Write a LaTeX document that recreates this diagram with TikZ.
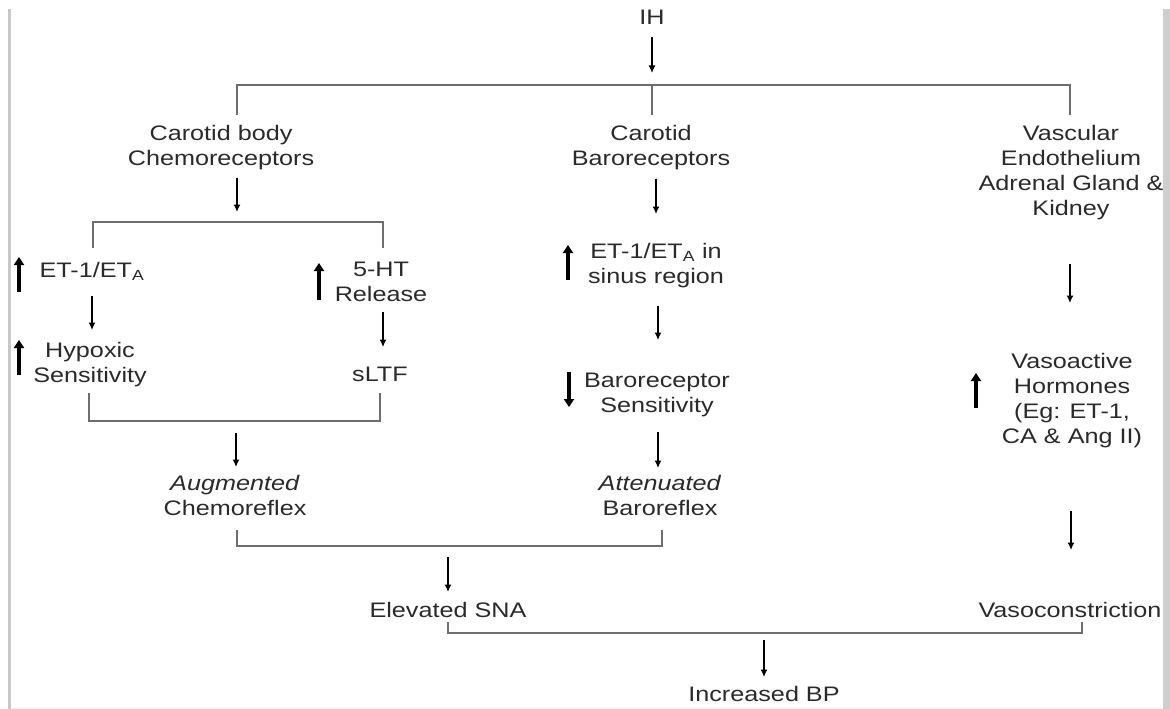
\documentclass[tikz,border=0pt]{standalone}
\usepackage{fontspec}
\setmainfont{Liberation Sans}[FakeStretch=1.2]
\usetikzlibrary{arrows.meta}
\definecolor{txtc}{HTML}{2A2A2A}
\definecolor{brkc}{HTML}{6E6E6E}
\definecolor{framec}{HTML}{C8C8C8}
\begin{document}
\begin{tikzpicture}[x=1pt,y=-1pt,
  lbl/.style={inner sep=0pt, anchor=north, align=center, text=txtc,
    font=\fontsize{21}{25}\selectfont},
  arr/.style={line width=1.4pt, black, -{Latex[length=7.5pt,width=7pt]}},
  brk/.style={line width=1.4pt, brkc},
  bigarr/.style={line width=3.6pt, black, -{Triangle[length=8pt,width=10pt]}}]
\useasboundingbox (0,0) rectangle (1170,709);
\fill[white] (0,0) rectangle (1170,709);
% frame of the screenshot
\fill[framec] (8,9) rectangle (11,709);
\fill[framec!90!white] (1163,9) rectangle (1170,709);
\draw[black!8, line width=1pt] (11,708) -- (1163,708);

% nodes
\node[lbl] (IH)    at (652,10)  {IH};
\node[lbl] (chemo) at (221,125) {Carotid body\\Chemoreceptors};
\node[lbl] (baro)  at (651,125) {Carotid\\Baroreceptors};
\node[lbl] (vasc)  at (1071,125) {Vascular\\Endothelium\\Adrenal Gland \&\\Kidney};
\node[lbl] (et1)   at (92,262)  {ET-1/ET\textsubscript{A}};
\node[lbl] (hyp)   at (90,342)  {Hypoxic\\Sensitivity};
\node[lbl] (ht)    at (381,262) {5-HT\\Release};
\node[lbl] (sltf)  at (380,367) {sLTF};
\node[lbl] (aug)   at (235,475) {\textit{Augmented}\\Chemoreflex};
\node[lbl] (et1s)  at (656,243) {ET-1/ET\textsubscript{A} in\\sinus region};
\node[lbl] (brs)   at (657,373) {Baroreceptor\\Sensitivity};
\node[lbl] (att)   at (660,475) {\textit{Attenuated}\\Baroreflex};
\node[lbl] (vaso)  at (1072,353) {Vasoactive\\Hormones\\(Eg: ET-1,\\CA \& Ang II)};
\node[lbl] (sna)   at (448,602) {Elevated SNA};
\node[lbl] (vcon)  at (1070,602) {Vasoconstriction};
\node[lbl] (bp)    at (764,686) {Increased BP};

% bracket coordinates
\coordinate (t0) at (652,85);
\coordinate (t1) at (237,115);
\coordinate (t2) at (652,115);
\coordinate (t3) at (1070,115);
\coordinate (c0) at (237,222);
\coordinate (c1) at (93,248);
\coordinate (c2) at (383,248);
\coordinate (d0) at (236,421);
\coordinate (d1) at (89,393);
\coordinate (d2) at (380,393);
\coordinate (e0) at (448,546);
\coordinate (e1) at (237,530);
\coordinate (e2) at (662,530);
\coordinate (f0) at (764,633);
\coordinate (f1) at (448,622);
\coordinate (f2) at (1082,622);

% brackets
\draw[brk] (t1) |- (t0) -| (t3);
\draw[brk] (t0) -- (t2);
\draw[brk] (c1) |- (c0) -| (c2);
\draw[brk] (d1) |- (d0) -| (d2);
\draw[brk] (e1) |- (e0) -| (e2);
\draw[brk] (f1) |- (f0) -| (f2);

% thin arrows
\draw[arr, shorten <=12pt, shorten >=12pt] (IH.south) -- (t0);
\draw[arr, shorten <=7.6pt, shorten >=10pt] (chemo.south -| c0) -- (c0);
\draw[arr, shorten <=15pt, shorten >=12pt] (et1.south) -- (et1.south |- hyp.north);
\draw[arr, shorten <=10pt, shorten >=20pt] ([xshift=2pt]ht.south) -- ([xshift=2pt]ht.south |- sltf.north);
\draw[arr, shorten <=12pt, shorten >=8pt] (d0) -- (d0 |- aug.north);
\draw[arr, shorten <=8.6pt, shorten >=29pt] ([xshift=5pt]baro.south) -- ([xshift=5pt]baro.south |- et1s.north);
\draw[arr, shorten <=17.6pt, shorten >=33pt] ([xshift=2pt]et1s.south) -- ([xshift=2pt]et1s.south |- brs.north);
\draw[arr, shorten <=14.6pt, shorten >=7pt] ([xshift=1pt]brs.south) -- ([xshift=1pt]brs.south |- att.north);
\draw[arr, shorten <=44pt, shorten >=50pt] ([xshift=-1pt]vasc.south) -- ([xshift=-1pt]vasc.south |- vaso.north);
\draw[arr, shorten <=63pt, shorten >=52pt] ([xshift=-1pt]vaso.south) -- ([xshift=-1pt]vaso.south |- vcon.north);
\draw[arr, shorten <=11pt, shorten >=10pt] (e0) -- (sna.north);
\draw[arr, shorten <=7pt, shorten >=9pt] (f0) -- (bp.north);

% increase / decrease markers
\draw[bigarr] (19,292) -- (19,257);
\draw[bigarr] (19,375) -- (19,340);
\draw[bigarr] (319,300) -- (319,263);
\draw[bigarr] (568,280) -- (568,245);
\draw[bigarr] (569,372) -- (569,407);
\draw[bigarr] (976,408) -- (976,373);
\end{tikzpicture}
\end{document}
